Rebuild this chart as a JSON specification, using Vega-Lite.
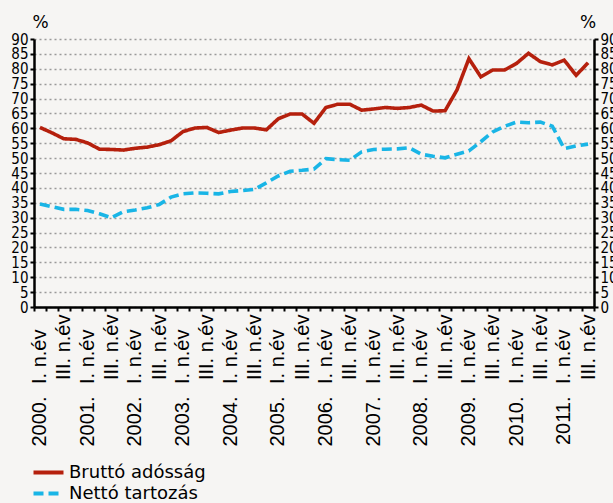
{
  "$schema": "https://vega.github.io/schema/vega-lite/v6.json",
  "width": 560,
  "height": 268,
  "autosize": {"type": "none"},
  "padding": {"left": 34, "top": 39, "right": 19, "bottom": 196},
  "background": "#f6f5f3",
  "config": {"view": {"stroke": null}},
  "data": {"values": [
    {"q": "2000 I", "Bruttó adósság": 60.3, "Nettó tartozás": 34.6},
    {"q": "2000 II", "Bruttó adósság": 58.5, "Nettó tartozás": 33.7},
    {"q": "2000 III", "Bruttó adósság": 56.5, "Nettó tartozás": 32.8},
    {"q": "2000 IV", "Bruttó adósság": 56.3, "Nettó tartozás": 32.8},
    {"q": "2001 I", "Bruttó adósság": 55.1, "Nettó tartozás": 32.4},
    {"q": "2001 II", "Bruttó adósság": 53.0, "Nettó tartozás": 31.3},
    {"q": "2001 III", "Bruttó adósság": 52.9, "Nettó tartozás": 30.0},
    {"q": "2001 IV", "Bruttó adósság": 52.7, "Nettó tartozás": 32.0},
    {"q": "2002 I", "Bruttó adósság": 53.3, "Nettó tartozás": 32.6},
    {"q": "2002 II", "Bruttó adósság": 53.7, "Nettó tartozás": 33.3},
    {"q": "2002 III", "Bruttó adósság": 54.5, "Nettó tartozás": 34.4},
    {"q": "2002 IV", "Bruttó adósság": 55.8, "Nettó tartozás": 36.9},
    {"q": "2003 I", "Bruttó adósság": 58.9, "Nettó tartozás": 38.0},
    {"q": "2003 II", "Bruttó adósság": 60.1, "Nettó tartozás": 38.3},
    {"q": "2003 III", "Bruttó adósság": 60.3, "Nettó tartozás": 38.2},
    {"q": "2003 IV", "Bruttó adósság": 58.6, "Nettó tartozás": 38.0},
    {"q": "2004 I", "Bruttó adósság": 59.4, "Nettó tartozás": 38.8},
    {"q": "2004 II", "Bruttó adósság": 60.1, "Nettó tartozás": 39.1},
    {"q": "2004 III", "Bruttó adósság": 60.1, "Nettó tartozás": 39.5},
    {"q": "2004 IV", "Bruttó adósság": 59.5, "Nettó tartozás": 41.7},
    {"q": "2005 I", "Bruttó adósság": 63.2, "Nettó tartozás": 44.0},
    {"q": "2005 II", "Bruttó adósság": 64.8, "Nettó tartozás": 45.6},
    {"q": "2005 III", "Bruttó adósság": 64.8, "Nettó tartozás": 45.9},
    {"q": "2005 IV", "Bruttó adósság": 61.7, "Nettó tartozás": 46.3},
    {"q": "2006 I", "Bruttó adósság": 67.0, "Nettó tartozás": 49.8},
    {"q": "2006 II", "Bruttó adósság": 68.1, "Nettó tartozás": 49.5},
    {"q": "2006 III", "Bruttó adósság": 68.1, "Nettó tartozás": 49.3},
    {"q": "2006 IV", "Bruttó adósság": 66.1, "Nettó tartozás": 52.1},
    {"q": "2007 I", "Bruttó adósság": 66.5, "Nettó tartozás": 52.9},
    {"q": "2007 II", "Bruttó adósság": 67.0, "Nettó tartozás": 53.0},
    {"q": "2007 III", "Bruttó adósság": 66.7, "Nettó tartozás": 53.1},
    {"q": "2007 IV", "Bruttó adósság": 67.0, "Nettó tartozás": 53.5},
    {"q": "2008 I", "Bruttó adósság": 67.8, "Nettó tartozás": 51.3},
    {"q": "2008 II", "Bruttó adósság": 65.8, "Nettó tartozás": 50.6},
    {"q": "2008 III", "Bruttó adósság": 65.9, "Nettó tartozás": 50.1},
    {"q": "2008 IV", "Bruttó adósság": 72.9, "Nettó tartozás": 51.3},
    {"q": "2009 I", "Bruttó adósság": 83.4, "Nettó tartozás": 52.4},
    {"q": "2009 II", "Bruttó adósság": 77.3, "Nettó tartozás": 55.5},
    {"q": "2009 III", "Bruttó adósság": 79.6, "Nettó tartozás": 58.8},
    {"q": "2009 IV", "Bruttó adósság": 79.6, "Nettó tartozás": 60.7},
    {"q": "2010 I", "Bruttó adósság": 81.8, "Nettó tartozás": 62.1},
    {"q": "2010 II", "Bruttó adósság": 85.2, "Nettó tartozás": 61.9},
    {"q": "2010 III", "Bruttó adósság": 82.4, "Nettó tartozás": 62.1},
    {"q": "2010 IV", "Bruttó adósság": 81.3, "Nettó tartozás": 60.7},
    {"q": "2011 I", "Bruttó adósság": 82.9, "Nettó tartozás": 53.2},
    {"q": "2011 II", "Bruttó adósság": 77.8, "Nettó tartozás": 54.1},
    {"q": "2011 III", "Bruttó adósság": 82.0, "Nettó tartozás": 54.7}
  ]},
  "transform": [{"fold": ["Bruttó adósság", "Nettó tartozás"], "as": ["series", "value"]}],
  "resolve": {"scale": {"y": "independent", "x": "independent"}, "axis": {"y": "independent", "x": "independent"}},
  "layer": [
    {
      "mark": {"type": "line", "strokeWidth": 3.6, "strokeCap": "butt"},
      "encoding": {
        "x": {
          "field": "q", "type": "ordinal", "sort": null,
          "scale": {"type": "band", "paddingInner": 0, "paddingOuter": 0},
          "axis": {
            "title": null, "labelAngle": -90, "labelFont": "Liberation Sans", "labelFontSize": 20,
            "labelColor": "#000", "tickBand": "extent", "tickSize": 4, "labelPadding": 3,
            "tickWidth": 2, "tickColor": "#000", "domainColor": "#000", "domainWidth": 2.5,
            "labelOverlap": false, "grid": false, "labelLimit": 300,
            "labelExpr": "split(datum.value, ' ')[1] == 'III' ? 'III. n.év' : ''"
          }
        },
        "y": {
          "field": "value", "type": "quantitative",
          "scale": {"domain": [0, 90], "nice": false},
          "axis": {
            "orient": "left", "values": [0,5,10,15,20,25,30,35,40,45,50,55,60,65,70,75,80,85,90],
            "title": "%", "titleAngle": 0, "titleX": 6, "titleY": -8, "titleAlign": "center",
            "titleBaseline": "bottom", "titleFont": "DejaVu Sans", "titleFontSize": 17,
            "titleFontWeight": "normal", "titleColor": "#000",
            "labelFont": "DejaVu Sans Condensed", "labelFontSize": 15, "labelColor": "#000",
            "labelPadding": 2, "tickSize": 4, "tickColor": "#000", "tickWidth": 2,
            "domainColor": "#000", "domainWidth": 2.5, "labelOverlap": false,
            "grid": true, "gridColor": "#9a9a9a", "gridDash": [2, 3], "gridWidth": 1.5
          }
        },
        "color": {
          "field": "series", "type": "nominal",
          "scale": {"domain": ["Bruttó adósság", "Nettó tartozás"], "range": ["#b5200d", "#19b5e6"]},
          "legend": {
            "orient": "none", "legendX": -10, "legendY": 424, "title": null, "direction": "vertical",
            "symbolType": "M0,0H4", "symbolSize": 225, "symbolStrokeWidth": 4,
            "labelFont": "DejaVu Sans", "labelFontSize": 18, "labelColor": "#000",
            "labelOffset": 26, "rowPadding": 2
          }
        },
        "strokeDash": {
          "field": "series", "type": "nominal",
          "scale": {"domain": ["Bruttó adósság", "Nettó tartozás"], "range": [[1, 0], [10, 5]]},
          "legend": {
            "orient": "none", "legendX": -10, "legendY": 424, "title": null, "direction": "vertical",
            "symbolType": "M0,0H4", "symbolSize": 225, "symbolStrokeWidth": 4,
            "labelFont": "DejaVu Sans", "labelFontSize": 18, "labelColor": "#000",
            "labelOffset": 26, "rowPadding": 2
          }
        }
      }
    },
    {
      "mark": {"type": "line", "strokeOpacity": 0},
      "encoding": {
        "x": {
          "field": "q", "type": "ordinal", "sort": null,
          "scale": {"type": "band", "paddingInner": 0, "paddingOuter": 0},
          "axis": {
            "orient": "bottom", "title": null, "labelAngle": -90, "labelFont": "Liberation Sans",
            "labelFontSize": 20, "labelColor": "#000", "ticks": false, "domain": false,
            "labelPadding": 89, "labelOverlap": false, "grid": false,
            "labelExpr": "split(datum.value, ' ')[1] == 'I' ? split(datum.value, ' ')[0] + '.' : ''"
          }
        },
        "y": {
          "field": "value", "type": "quantitative",
          "scale": {"domain": [0, 90], "nice": false},
          "axis": {
            "orient": "right", "values": [0,5,10,15,20,25,30,35,40,45,50,55,60,65,70,75,80,85,90],
            "title": "%", "titleAngle": 0, "titleX": -6.5, "titleY": -8, "titleAlign": "center",
            "titleBaseline": "bottom", "titleFont": "DejaVu Sans", "titleFontSize": 17,
            "titleFontWeight": "normal", "titleColor": "#000",
            "labelFont": "DejaVu Sans Condensed", "labelFontSize": 15, "labelColor": "#000",
            "labelPadding": 2, "tickSize": 4, "tickColor": "#000", "tickWidth": 2,
            "domainColor": "#000", "domainWidth": 2.5, "labelOverlap": false, "grid": false
          }
        },
        "detail": {"field": "series"}
      }
    },
    {
      "mark": {"type": "line", "strokeOpacity": 0},
      "encoding": {
        "x": {
          "field": "q", "type": "ordinal", "sort": null,
          "scale": {"type": "band", "paddingInner": 0, "paddingOuter": 0},
          "axis": {
            "orient": "bottom", "title": null, "labelAngle": -90, "labelFont": "Liberation Sans",
            "labelFontSize": 20, "labelColor": "#000", "ticks": false, "domain": false,
            "labelPadding": 22, "labelOverlap": false, "grid": false,
            "labelExpr": "split(datum.value, ' ')[1] == 'I' ? 'I. n.év' : ''"
          }
        },
        "y": {
          "field": "value", "type": "quantitative",
          "scale": {"domain": [0, 90], "nice": false},
          "axis": null
        },
        "detail": {"field": "series"}
      }
    }
  ]
}
